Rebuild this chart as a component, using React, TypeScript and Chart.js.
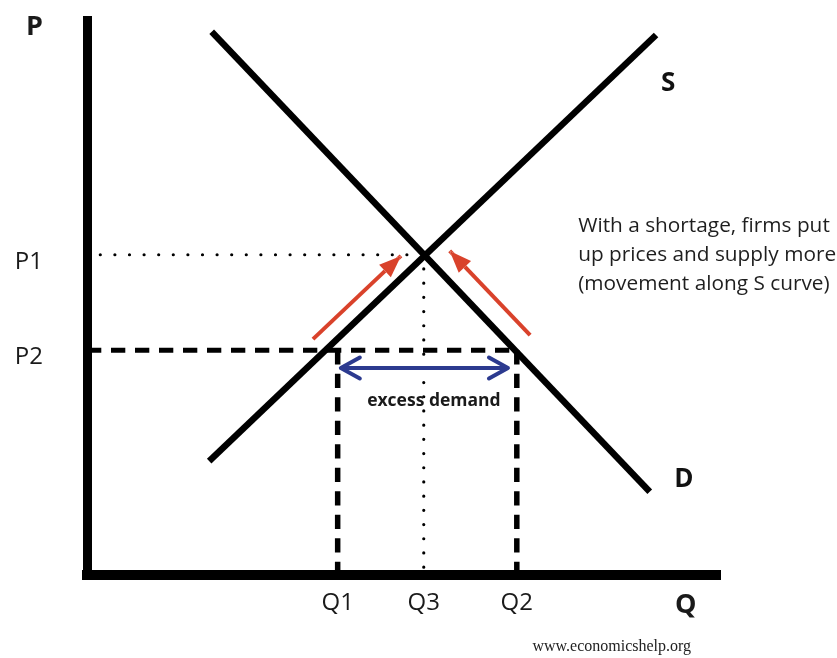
import { useEffect, useRef } from 'react';
import { Chart, registerables } from 'chart.js';

Chart.register(...registerables);

// ---------- data (quantity 0..100, price 0..100) ----------
const supplyQ = [19.3, 89.9];
const supplyP = [20.5, 97.3];
const demandQ = [19.7, 88.9];
const demandP = [97.9, 15.0];

const P1 = 57.7;
const P2 = 40.5;
const Q1 = 39.6;
const Q3 = 53.2;
const Q2 = 67.9;

const priceTickValues = [P2, P1, 100];
const priceTickLabels = ['P2', 'P1', 'P'];
const qtyTickValues = [Q1, Q3, Q2, 94.6];
const qtyTickLabels = ['Q1', 'Q3', 'Q2', 'Q'];

const p1GuideQ = [2.1, 51];
const p2GuideQ = [0, Q2];

const leftArrowQ = [35.7, 49.6];
const leftArrowP = [42.5, 57.5];
const rightArrowQ = [70.0, 57.3];
const rightArrowP = [43.2, 58.4];
const excessArrowQ = [40.1, 66.5];
const excessArrowP = [37.3, 37.3];

const noteLines = ['With a shortage, firms put', 'up prices and supply more', '(movement along S curve)'];
const noteLineP = [61.86, 56.6, 51.4];
const noteQ = 77.6;

const FONT = '"Open Sans", sans-serif';
const RED = '#d9422b';
const BLUE = '#2c3a8f';

const pts = (qs: number[], ps: number[]) => qs.map((q, i) => ({ x: q, y: ps[i] }));

const arrowPlugin = {
  id: 'arrowHeads',
  beforeDatasetDraw(chart: any, args: any) {
    const ds = chart.data.datasets[args.index];
    if (ds.arrowHead !== 'filled') return;
    const d = args.meta.data;
    const s = d[0], t = d[d.length - 1];
    const tri = headTriangle(s.x, s.y, t.x, t.y, 22, 17);
    const ctx = chart.ctx;
    ctx.save();
    ctx.beginPath();
    ctx.rect(0, 0, chart.width, chart.height);
    ctx.moveTo(tri[0][0], tri[0][1]);
    ctx.lineTo(tri[1][0], tri[1][1]);
    ctx.lineTo(tri[2][0], tri[2][1]);
    ctx.closePath();
    ctx.clip('evenodd');
  },
  afterDatasetDraw(chart: any, args: any) {
    const ds = chart.data.datasets[args.index];
    if (!ds.arrowHead) return;
    const ctx = chart.ctx;
    const d = args.meta.data;
    const s = d[0], t = d[d.length - 1];
    if (ds.arrowHead === 'filled') {
      ctx.restore();
      const tri = headTriangle(s.x, s.y, t.x, t.y, 22, 17);
      ctx.save();
      ctx.fillStyle = ds.borderColor;
      ctx.beginPath();
      ctx.moveTo(tri[0][0], tri[0][1]);
      ctx.lineTo(tri[1][0], tri[1][1]);
      ctx.lineTo(tri[2][0], tri[2][1]);
      ctx.closePath();
      ctx.fill();
      ctx.restore();
    } else if (ds.arrowHead === 'open-both') {
      ctx.save();
      ctx.strokeStyle = ds.borderColor;
      ctx.lineWidth = ds.borderWidth;
      ctx.lineCap = 'round';
      ctx.lineJoin = 'round';
      const draw = (ax: number, ay: number, bx: number, by: number) => {
        const tri = headTriangle(ax, ay, bx, by, 19, 21);
        ctx.beginPath();
        ctx.moveTo(tri[1][0], tri[1][1]);
        ctx.lineTo(tri[0][0], tri[0][1]);
        ctx.lineTo(tri[2][0], tri[2][1]);
        ctx.stroke();
      };
      draw(s.x, s.y, t.x, t.y);
      draw(t.x, t.y, s.x, s.y);
      ctx.restore();
    }
  },
};

function headTriangle(sx: number, sy: number, tx: number, ty: number, len: number, wid: number) {
  const dx = tx - sx, dy = ty - sy;
  const L = Math.hypot(dx, dy) || 1;
  const ux = dx / L, uy = dy / L;
  const nx = -uy, ny = ux;
  const bx = tx - ux * len, by = ty - uy * len;
  return [
    [tx, ty],
    [bx + nx * wid / 2, by + ny * wid / 2],
    [bx - nx * wid / 2, by - ny * wid / 2],
  ];
}

const textPlugin = {
  id: 'annotations',
  afterDraw(chart: any) {
    const { ctx, scales } = chart;
    const X = (q: number) => scales.x.getPixelForValue(q);
    const Y = (p: number) => scales.y.getPixelForValue(p);
    ctx.save();
    ctx.fillStyle = '#111';
    ctx.textBaseline = 'alphabetic';
    ctx.textAlign = 'center';
    ctx.font = `bold 26px ${FONT}`;
    ctx.fillText('S', X(91.8), Y(87.2));
    ctx.fillText('D', X(94.3), Y(15.9));
    ctx.font = `bold 17.5px ${FONT}`;
    ctx.fillStyle = '#1a1a1a';
    ctx.fillText('excess demand', X(54.8), Y(30.45));
    ctx.textAlign = 'left';
    ctx.font = `20.8px ${FONT}`;
    ctx.fillStyle = '#1e1e1e';
    noteLines.forEach((line, i) => ctx.fillText(line, X(noteQ), Y(noteLineP[i])));
    ctx.textAlign = 'center';
    ctx.font = `16px "Liberation Serif", serif`;
    ctx.fillStyle = '#222';
    ctx.fillText('www.economicshelp.org', X(82.9), chart.height - 7);
    ctx.restore();
  },
};

export default function App() {
  const ref = useRef<HTMLCanvasElement>(null);
  useEffect(() => {
    const canvas = ref.current;
    if (!canvas) return;
    const guide = (data: any[], dash: number[], width: number, cap: string) => ({
      data,
      borderColor: '#000',
      borderWidth: width,
      borderDash: dash,
      borderCapStyle: cap,
      pointRadius: 0,
      tension: 0,
      clip: false,
    });
    const datasets: any[] = [
      { data: pts(supplyQ, supplyP), borderColor: '#000', borderWidth: 6.5, pointRadius: 0, clip: false },
      { data: pts(demandQ, demandP), borderColor: '#000', borderWidth: 6.5, pointRadius: 0, clip: false },
      { data: pts(leftArrowQ, leftArrowP), borderColor: RED, borderWidth: 4, pointRadius: 0, clip: false, arrowHead: 'filled' },
      { data: pts(rightArrowQ, rightArrowP), borderColor: RED, borderWidth: 4, pointRadius: 0, clip: false, arrowHead: 'filled' },
      { data: pts(excessArrowQ, excessArrowP), borderColor: BLUE, borderWidth: 4, pointRadius: 0, clip: false, arrowHead: 'open-both' },
      guide(pts(p1GuideQ, [P1, P1]), [0, 14.6], 3.2, 'round'),
      guide(pts([Q3, Q3], [P1, 0]), [0, 14.2], 3.2, 'round'),
      guide(pts(p2GuideQ, [P2, P2]), [14.3, 9.7], 5, 'butt'),
      guide(pts([Q1, Q1], [P2, 0]), [14.3, 9.2], 5.5, 'butt'),
      guide(pts([Q2, Q2], [P2, 0]), [14.3, 9.2], 5.5, 'butt'),
    ];
    const chart = new Chart(canvas, {
      type: 'line',
      data: { datasets },
      options: {
        animation: false,
        responsive: true,
        maintainAspectRatio: false,
        events: [],
        layout: { padding: { left: 0, top: 20, right: 117, bottom: 0 } },
        plugins: { legend: { display: false }, tooltip: { enabled: false }, title: { display: false } },
        scales: {
          x: {
            type: 'linear',
            min: 0,
            max: 100,
            grid: { display: false, drawTicks: false },
            border: { display: true, width: 10, color: '#000' },
            afterFit: (s: any) => { s.height = 83; s.paddingLeft = 0; s.paddingRight = 0; },
            afterBuildTicks: (s: any) => { s.ticks = qtyTickValues.map((v) => ({ value: v })); },
            ticks: {
              autoSkip: false,
              maxRotation: 0,
              minRotation: 0,
              padding: 14,
              color: '#1a1a1a',
              callback: (_v: any, i: number) => qtyTickLabels[i],
              font: (c: any) => (c.index === qtyTickLabels.length - 1
                ? { family: FONT, size: 27, weight: 'bold' }
                : { family: FONT, size: 24, weight: 'normal' }),
            },
          },
          y: {
            type: 'linear',
            min: 0,
            max: 100,
            grid: { display: false, drawTicks: false },
            border: { display: true, width: 9, color: '#000' },
            afterFit: (s: any) => { s.width = 87; s.paddingTop = 0; s.paddingBottom = 0; },
            afterBuildTicks: (s: any) => { s.ticks = priceTickValues.map((v) => ({ value: v })); },
            ticks: {
              autoSkip: false,
              padding: 44,
              labelOffset: 7,
              color: '#1a1a1a',
              callback: (_v: any, i: number) => priceTickLabels[i],
              font: (c: any) => (c.index === priceTickLabels.length - 1
                ? { family: FONT, size: 27, weight: 'bold' }
                : { family: FONT, size: 24, weight: 'normal' }),
            },
          },
        },
      } as any,
      plugins: [arrowPlugin as any, textPlugin as any],
    });
    return () => chart.destroy();
  }, []);
  return (
    <div style={{ position: 'absolute', left: 0, top: 0, width: 837, height: 658, background: '#fff' }}>
      <canvas ref={ref} />
    </div>
  );
}
